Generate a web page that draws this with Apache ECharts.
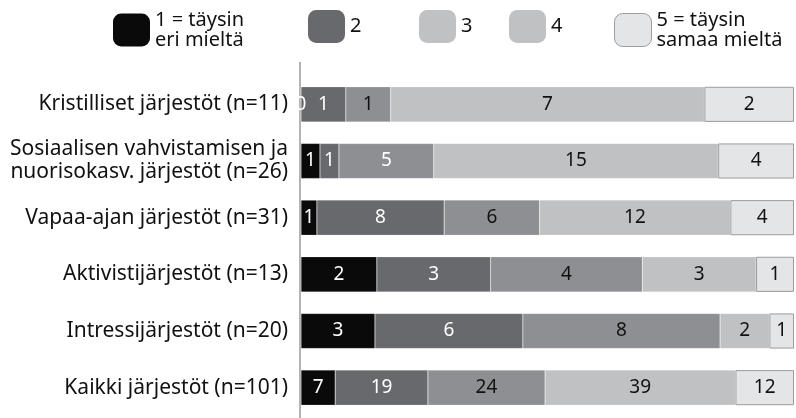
<!DOCTYPE html>
<html lang="fi">
<head>
    <meta charset="UTF-8">
    <title>Järjestöt</title>
    <script src="https://cdn.jsdelivr.net/npm/echarts@6/dist/echarts.min.js"></script>
    <style>
        html, body { margin: 0; padding: 0; background: #fff; }
    </style>
</head>
<body>
<div id="main" style="width: 796px;height:418px;"></div>
<script>
    // luokat ylhäältä alas
    var categories = [
        'Kristilliset järjestöt (n=11)',
        'Sosiaalisen vahvistamisen ja\nnuorisokasv. järjestöt (n=26)',
        'Vapaa-ajan järjestöt (n=31)',
        'Aktivistijärjestöt (n=13)',
        'Intressijärjestöt (n=20)',
        'Kaikki järjestöt (n=101)'
    ];
    var levelNames = ['1 = täysin\neri mieltä', '2', '3', '4', '5 = täysin\nsamaa mieltä'];
    // vastausten lukumäärät
    var level1 = [0, 1, 1, 2, 3, 7];
    var level2 = [1, 1, 8, 3, 6, 19];
    var level3 = [1, 5, 6, 4, 8, 24];
    var level4 = [7, 15, 12, 3, 2, 39];
    var level5 = [2, 4, 4, 1, 1, 12];

    var levels = [level1, level2, level3, level4, level5];
    var colors = ['#0a0a0a', '#68696d', '#8e8f92', '#c0c1c3', '#e4e5e7'];
    var legendColors = ['#0a0a0a', '#68696d', '#c0c1c3', '#c0c1c3', '#e4e5e7'];
    var labelColors = ['#fff', '#fff', '#111', '#111', '#111'];
    var legendLeft = [113, 308, 419, 509, 614];
    var font = '"Noto Sans", "DejaVu Sans", sans-serif';

    var totals = categories.map(function (c, i) {
        var s = 0;
        levels.forEach(function (l) { s += l[i]; });
        return s;
    });

    var series = levels.map(function (arr, k) {
        return {
            name: levelNames[k],
            type: 'bar',
            stack: 'all',
            barWidth: '62%',
            itemStyle: {
                color: colors[k],
                borderColor: k === 4 ? '#9c9c9c' : 'rgba(255,255,255,0.35)',
                borderWidth: k === 4 ? 1 : 0.5
            },
            label: {
                show: true,
                position: 'inside',
                color: labelColors[k],
                fontFamily: font,
                fontSize: 19,
                formatter: function (p) { return arr[p.dataIndex]; }
            },
            data: arr.map(function (v, i) {
                var item = { value: v / totals[i] * 100 };
                // Sosiaalisen vahv. "5" valkoisella
                if (k === 2 && i === 1) item.label = { color: '#fff' };
                return item;
            })
        };
    });

    var legends = levelNames.map(function (n, k) {
        return {
            left: legendLeft[k],
            top: 10,
            padding: 0,
            itemWidth: 37,
            itemHeight: 33,
            itemGap: 0,
            selectedMode: false,
            textStyle: { fontFamily: font, fontSize: 20, lineHeight: 20, color: '#111' },
            data: [{
                name: n,
                itemStyle: {
                    color: legendColors[k],
                    borderColor: k === 4 ? '#9c9c9c' : legendColors[k],
                    borderWidth: k === 4 ? 1 : 0
                }
            }]
        };
    });

    var myChart = echarts.init(document.getElementById('main'));
    option = {
        animation: false,
        legend: legends,
        grid: { left: 301, right: 2, top: 76, bottom: 2 },
        xAxis: {
            type: 'value',
            min: 0,
            max: 100,
            show: false
        },
        yAxis: {
            type: 'category',
            inverse: true,
            data: categories,
            axisLine: { show: false },
            axisTick: { show: false },
            axisLabel: {
                margin: 13,
                color: '#111',
                fontFamily: font,
                fontSize: 21,
                lineHeight: 23
            }
        },
        graphic: [{
            type: 'line',
            shape: { x1: 300, y1: 62, x2: 300, y2: 418 },
            style: { stroke: '#9a9a9a', lineWidth: 1.5 },
            z: 0
        }],
        series: series
    };
    myChart.setOption(option);
</script>
</body>
</html>
